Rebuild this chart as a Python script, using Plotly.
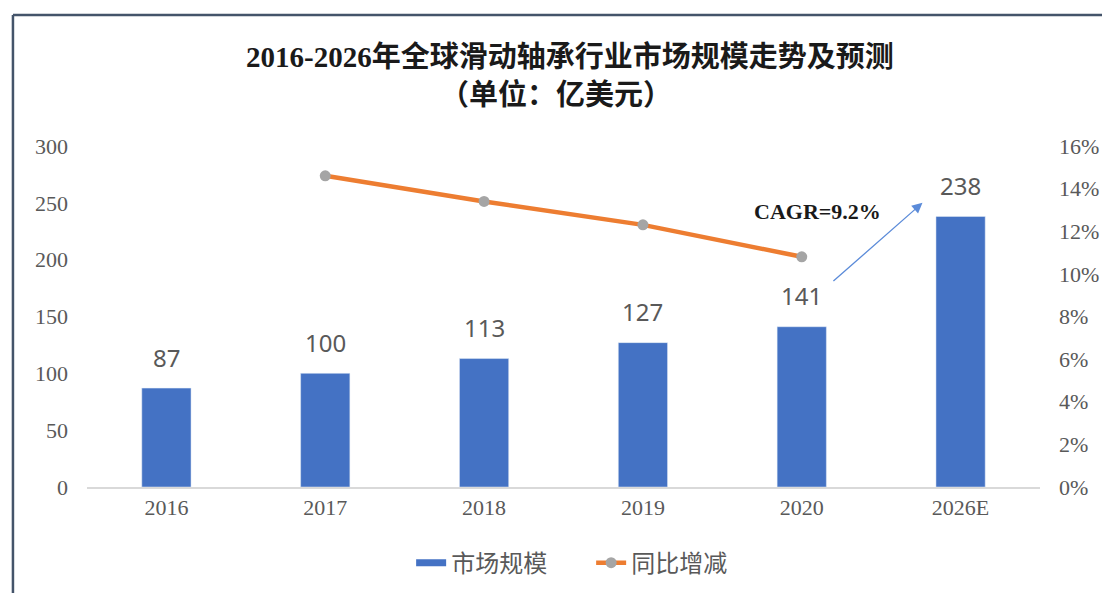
import plotly.graph_objects as go

years = ["2016", "2017", "2018", "2019", "2020", "2026E"]
market_size = [87, 100, 113, 127, 141, 238]
yoy_growth = [None, 14.6, 13.4, 12.3, 10.8, None]
left_ticks = [0, 50, 100, 150, 200, 250, 300]
right_ticks = [0, 2, 4, 6, 8, 10, 12, 14, 16]
right_labels = [f"{v}%" for v in right_ticks]

blue = "#4472C4"
orange = "#ED7D31"
grey = "#A5A5A5"
text_grey = "#595959"
serif = "Times New Roman, Liberation Serif, serif"
cjk = "Liberation Serif, Noto Sans CJK SC, serif"

fig = go.Figure()
fig.add_trace(go.Bar(
    x=years, y=market_size, name="市场规模", marker_color=blue,
    showlegend=False,
))
# legend entry for the bars drawn as a flat blue strip
fig.add_trace(go.Scatter(
    x=[None], y=[None], mode="lines", name="市场规模",
    line=dict(color=blue, width=7),
))
fig.add_trace(go.Scatter(
    x=years, y=yoy_growth, name="同比增减", yaxis="y2", mode="lines+markers",
    line=dict(color=orange, width=4.5),
    marker=dict(color=grey, size=11),
))

# value labels above bars (category index on x)
for i, v in enumerate(market_size):
    fig.add_annotation(
        x=i, y=v, xref="x", yref="y", text=str(v), showarrow=False, yshift=31,
        font=dict(family="Noto Sans, Liberation Sans, sans-serif", size=24, color=text_grey),
    )

fig.add_annotation(
    x=4.76, y=250, ax=4.19, ay=180, xref="x", yref="y", axref="x", ayref="y",
    text="", showarrow=True, arrowhead=2, arrowsize=1.6, arrowwidth=1.3,
    arrowcolor="#5B8BD9",
)
fig.add_annotation(
    x=4.1, y=242, xref="x", yref="y", text="<b>CAGR=9.2%</b>", showarrow=False,
    font=dict(family=serif, size=22, color="#1a1a1a"),
)

# title as two lines
fig.add_annotation(
    x=0.507, y=1.261, xref="paper", yref="paper", showarrow=False, yanchor="middle",
    text="<b>2016-2026年全球滑动轴承行业市场规模走势及预测</b>",
    font=dict(family=cjk, size=29, color="#1a1a1a"),
)
fig.add_annotation(
    x=0.492, y=1.150, xref="paper", yref="paper", showarrow=False, yanchor="middle",
    text="<b>（单位：亿美元）</b>",
    font=dict(family=cjk, size=29, color="#1a1a1a"),
)

fig.add_shape(type="line", xref="paper", yref="paper", x0=-0.0777, x1=-0.0777, y0=-0.35, y1=1.384,
              line=dict(color="#44546A", width=2.5))
fig.add_shape(type="line", xref="paper", yref="paper", x0=-0.0777, x1=1.08, y0=1.384, y1=1.384,
              line=dict(color="#44546A", width=2.5))

# page body adds ~8px offset, so size/margins compensate
fig.update_layout(
    width=1102, height=585,
    margin=dict(l=79, r=70, t=138, b=106, autoexpand=False),
    paper_bgcolor="white", plot_bgcolor="white",
    bargap=0.69,
    xaxis=dict(
        type="category", range=[-0.5, 5.5],
        showgrid=False, showline=True, linecolor="#D9D9D9", linewidth=1.5, ticks="",
        tickfont=dict(family=serif, size=22, color=text_grey),
    ),
    yaxis=dict(
        range=[0, 300], tickvals=left_ticks, showgrid=False, zeroline=False, ticks="",
        ticklabelstandoff=18,
        tickfont=dict(family=serif, size=22, color=text_grey),
    ),
    yaxis2=dict(
        range=[0, 16], tickvals=right_ticks, ticktext=right_labels, overlaying="y", side="right",
        showgrid=False, zeroline=False, ticks="", ticklabelstandoff=18,
        tickfont=dict(family=serif, size=22, color=text_grey),
    ),
    legend=dict(
        orientation="h", x=0.529, xanchor="center", y=-0.223, yanchor="middle",
        font=dict(family=cjk, size=24, color=text_grey),
        entrywidth=135, entrywidthmode="pixels",
    ),
)

fig.write_html("out.html")
